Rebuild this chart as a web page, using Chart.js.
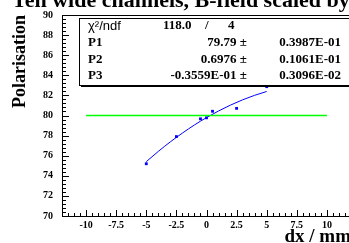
<!DOCTYPE html>
<html><head><meta charset="utf-8">
<script src="https://cdn.jsdelivr.net/npm/chart.js@4/dist/chart.umd.min.js"></script>
<style>
html,body{margin:0;padding:0;overflow:hidden;background:#fff;width:349px;height:243px}
#wrap{position:absolute;left:0;top:0;width:420px;height:243px}
</style></head>
<body><div id="wrap"><canvas id="c" width="420" height="243"></canvas></div>
<script>
const titleText = "Ten wide channels, B-field scaled by 0.9";
const xAxisTitle = "dx / mm";
const yAxisTitle = "Polarisation";
const dxValues = [-5, -2.5, -0.5, 0, 0.5, 2.5, 5];
const polValues = [75.2, 77.9, 79.67, 79.77, 80.42, 80.71, 82.87];
const fitX = [-5, -4, -3, -2, -1, 0, 1, 2, 3, 4, 5];
const fitY = [75.41, 76.43, 77.38, 78.25, 79.06, 79.79, 80.45, 81.04, 81.56, 82.01, 82.39];
const refX = [-10, 10];
const refY = [80, 80];
const xTicks = [-10, -7.5, -5, -2.5, 0, 2.5, 5, 7.5, 10];
const yTicks = [70, 72, 74, 76, 78, 80, 82, 84, 86, 88, 90];
const statsLabels = ["P1", "P2", "P3"];
const statsValues = ["79.79", "0.6976", "-0.3559E-01"];
const statsErrors = ["0.3987E-01", "0.1061E-01", "0.3096E-02"];
const chi2Value = "118.0";
const ndfValue = "4";

const SERIF = "'Liberation Serif','Times New Roman',serif";
const SANS = "'Liberation Sans',Arial,sans-serif";

const rootPlugin = {
  id: 'rootStyle',
  afterDatasetsDraw(chart) {
    const {ctx, chartArea: a, scales: {x, y}} = chart;
    ctx.save();
    ctx.strokeStyle = '#000';
    ctx.lineWidth = 1;
    ctx.strokeRect(a.left + 0.5, a.top + 0.5, a.right - a.left, a.bottom - a.top);
    ctx.beginPath();
    for (let i = 0; i <= 50; i++) {
      const v = y.min + i * 0.4;
      const p = Math.round(y.getPixelForValue(v)) + 0.5;
      ctx.moveTo(a.left, p);
      ctx.lineTo(a.left + (i % 5 === 0 ? 7 : 4), p);
    }
    for (let i = 0; i <= 48; i++) {
      const v = x.min + i * 0.5;
      const p = Math.round(x.getPixelForValue(v)) + 0.5;
      ctx.moveTo(p, a.bottom);
      ctx.lineTo(p, a.bottom - ((i - 4) % 5 === 0 ? 6 : 3));
    }
    ctx.stroke();

    // stats box
    const bx = a.left + 17, by = a.top + 3, bw = 400, bh = 67;
    ctx.fillStyle = '#fff';
    ctx.fillRect(bx, by, bw, bh);
    ctx.strokeRect(bx + 0.5, by + 0.5, bw, bh);
    ctx.fillStyle = '#000';
    ctx.fillRect(bx + 2, by + bh, bw, 2);
    ctx.textBaseline = 'middle';
    ctx.font = `13px ${SANS}`;
    ctx.textAlign = 'left';
    ctx.fillText('\u03c7\u00b2/ndf', bx + 9, by + 8);
    ctx.font = `bold 13px ${SERIF}`;
    ctx.fillText(chi2Value, bx + 84, by + 8);
    ctx.fillText('/', bx + 126, by + 8);
    ctx.fillText(ndfValue, bx + 149, by + 8);
    const rows = [by + 25, by + 42, by + 58];
    for (let k = 0; k < statsLabels.length; k++) {
      ctx.textAlign = 'left';
      ctx.fillText(statsLabels[k], bx + 9, rows[k]);
      ctx.textAlign = 'right';
      ctx.fillText(statsValues[k] + ' \u00b1', bx + 168, rows[k]);
      ctx.fillText(statsErrors[k], bx + 262, rows[k]);
    }
    ctx.restore();
  },
  afterDraw(chart) {
    const {ctx, chartArea: a} = chart;
    ctx.save();
    ctx.fillStyle = '#000';
    ctx.textBaseline = 'alphabetic';
    ctx.font = `bold 22px ${SERIF}`;
    ctx.textAlign = 'left';
    ctx.fillText(titleText, 12, 7);
    ctx.font = `bold 19px ${SERIF}`;
    ctx.textAlign = 'right';
    ctx.fillText(xAxisTitle, a.right, 242);
    ctx.translate(25, a.top);
    ctx.rotate(-Math.PI / 2);
    ctx.font = `bold 18px ${SERIF}`;
    ctx.textAlign = 'right';
    ctx.fillText(yAxisTitle, 0, 0);
    ctx.restore();
  }
};

new Chart(document.getElementById('c'), {
  type: 'scatter',
  data: {
    datasets: [
      {
        label: 'ref',
        data: refX.map((v, i) => ({x: v, y: refY[i]})),
        showLine: true, borderColor: '#00ff00', borderWidth: 1.5,
        pointRadius: 0, fill: false
      },
      {
        label: 'fit',
        data: fitX.map((v, i) => ({x: v, y: fitY[i]})),
        showLine: true, borderColor: '#0000ff', borderWidth: 1,
        cubicInterpolationMode: 'monotone', pointRadius: 0, fill: false
      },
      {
        label: 'data',
        data: dxValues.map((v, i) => ({x: v, y: polValues[i]})),
        showLine: false, pointStyle: 'rect', pointRadius: 2,
        backgroundColor: '#0000ff', borderColor: '#0000ff', borderWidth: 0
      }
    ]
  },
  options: {
    responsive: false,
    animation: false,
    devicePixelRatio: 1,
    layout: {padding: {left: 0, right: 69, top: 10, bottom: 0}},
    plugins: {legend: {display: false}, tooltip: {enabled: false}, title: {display: false}},
    scales: {
      x: {
        type: 'linear', min: -12, max: 12,
        grid: {display: false, drawTicks: false}, border: {display: false},
        afterBuildTicks(s) { s.ticks = xTicks.map(v => ({value: v})); },
        afterFit(s) { s.height = 27; },
        ticks: {
          autoSkip: false, maxRotation: 0, padding: 3, color: '#000',
          font: {family: SERIF, weight: 'bold', size: 10},
          callback: v => String(v)
        }
      },
      y: {
        type: 'linear', min: 70, max: 90,
        grid: {display: false, drawTicks: false}, border: {display: false},
        afterBuildTicks(s) { s.ticks = yTicks.map(v => ({value: v})); },
        afterFit(s) { s.width = 62; },
        ticks: {
          padding: 9, color: '#000',
          font: {family: SERIF, weight: 'bold', size: 10},
          callback: v => String(v)
        }
      }
    }
  },
  plugins: [rootPlugin]
});
</script>
</body></html>
